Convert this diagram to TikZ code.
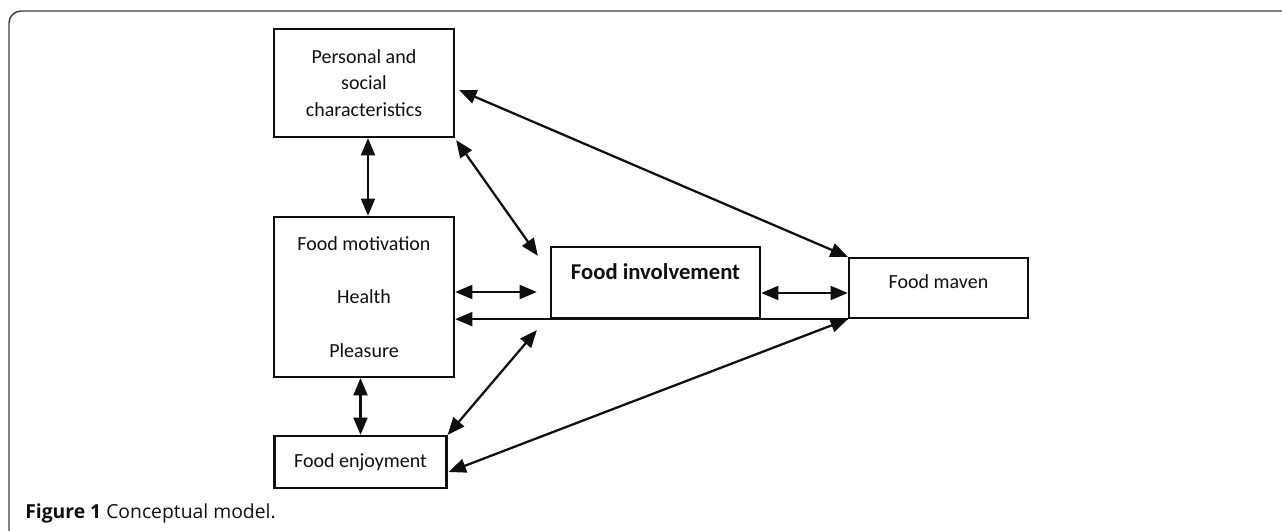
\documentclass[tikz,border=0pt]{standalone}
\usepackage{fontspec}
\setmainfont{Carlito}
\newfontfamily\capfont{Open Sans}
\usepackage{tikz}
\usetikzlibrary{
    positioning,
    arrows.meta,
    calc
}
\definecolor{frameGray}{RGB}{60, 60, 60}
\definecolor{inkBlack}{RGB}{15, 15, 15}

\begin{document}
\begin{tikzpicture}[x=0.75pt, y=-0.75pt,
        >={Triangle[length=13pt, width=10.5pt]},
        box/.style={draw=inkBlack, line width=1.7pt, inner sep=0pt, align=center,
            font=\fontsize{15}{20}\selectfont, text=inkBlack},
        link/.style={<->, draw=inkBlack, line width=1.7pt}]
        \useasboundingbox (0,0) rectangle (1282,531);

        % frame
        \draw[frameGray, line width=1.1pt, rounded corners=9pt] (9,531) -- (9,11) -- (1282,11);

        % boxes
        \node[box, minimum width=135pt, minimum height=81pt] (pers) at (364,83)
            {Personal and\\social\\characteristics};
        \node[box, minimum width=135pt, minimum height=120pt] (mot) at (364,297)
            {Food motivation\\[20pt]Health\\[20pt]Pleasure};
        \node[box, minimum width=129pt, minimum height=39pt] (enj) at (360.5,462)
            {Food enjoyment};
        \node[box, minimum width=156.75pt, minimum height=53.25pt, text height=12pt, text depth=16pt,
            font=\fontsize{17}{20}\selectfont\bfseries] (inv) at (655.5,282.5)
            {Food involvement};
        \node[box, minimum width=134.25pt, minimum height=45pt, text height=11pt, text depth=11pt] (mav) at (938.5,288)
            {Food maven};

        % free arrow ends
        \coordinate (invA) at ($(inv.west)+(-13,9.5)$);
        \coordinate (invB) at ($(inv.north west)+(-12,10)$);
        \coordinate (invC) at ($(inv.south west)+(-13,11)$);
        \coordinate (mavA) at ($(mav.west)+(0,5)$);

        % connectors
        \draw[link] ($(pers.south)+(4,0)$) -- ($(mot.north)+(4,0)$);
        \draw[link] (mot.south -| enj.north) -- (enj.north);
        \draw[link] (mot.east |- invA) -- (invA);
        \draw[<-, draw=inkBlack, line width=1.7pt] (mot.east |- mav.south west) -- (mav.south west);
        \draw[link] ($(pers.south east)+(1,2)$) -- (invB);
        \draw[link] ($(pers.east)+(4,7)$) -- (mav.north west);
        \draw[link] (inv.east |- mavA) -- (mavA);
        \draw[link] (enj.north east) -- (invC);
        \draw[link] ($(enj.east)+(1,10)$) -- (mav.south west);

        % caption
        \node[anchor=base west, inner sep=0pt, text=inkBlack, font=\capfont\fontsize{14.5}{17}\selectfont] (cap) at (25,518)
            {\textbf{Figure 1} Conceptual model.};
\end{tikzpicture}
\end{document}
